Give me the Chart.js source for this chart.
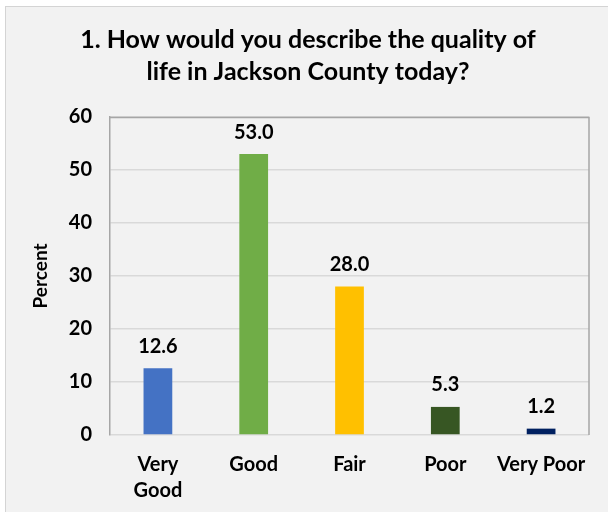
<!DOCTYPE html>
<html><head><meta charset="utf-8">
<script src="https://cdn.jsdelivr.net/npm/chart.js@4/dist/chart.umd.min.js"></script>
<style>
html,body{margin:0;padding:0;background:#fff;width:608px;height:512px;overflow:hidden;}
#frame{position:absolute;left:5px;top:6px;width:620px;height:520px;border:1px solid #d4d4d4;background:#f2f2f2;}
#wrap{position:absolute;left:0;top:0;width:608px;height:512px;}
</style></head><body>
<div id="frame"></div>
<div id="wrap"><canvas id="c" width="608" height="512"></canvas></div>
<script>
const categories = [["Very","Good"], "Good", "Fair", "Poor", "Very Poor"];
const percentValues = [12.6, 53.0, 28.0, 5.3, 1.2];
const barColors = ["#4472C4", "#70AD47", "#FFC000", "#375623", "#002060"];
const titleLines = ["1. How would you describe the quality of", "life in Jackson County today?"];
const yTitle = "Percent";
const FONT = "Lato, 'Liberation Sans', sans-serif";

const labelPlugin = {
  id: 'valueLabels',
  afterDatasetsDraw(chart) {
    const ctx = chart.ctx;
    const meta = chart.getDatasetMeta(0);
    ctx.save();
    ctx.font = "bold 20px " + FONT;
    ctx.fillStyle = "#000";
    ctx.textAlign = "center";
    ctx.textBaseline = "middle";
    meta.data.forEach((bar, i) => {
      ctx.fillText(percentValues[i].toFixed(1), bar.x, bar.y - 22);
    });
    ctx.restore();
  }
};
const borderPlugin = {
  id: 'plotBorder',
  beforeDatasetsDraw(chart) {
    const a = chart.chartArea, ctx = chart.ctx;
    ctx.save();
    ctx.strokeStyle = "#a6a6a6";
    ctx.lineWidth = 1.5;
    ctx.beginPath();
    ctx.moveTo(a.left, a.top + 0.5);
    ctx.lineTo(a.right, a.top + 0.5);
    ctx.lineTo(a.right, a.bottom);
    ctx.stroke();
    ctx.restore();
  }
};

new Chart(document.getElementById('c'), {
  type: 'bar',
  data: {
    labels: categories,
    datasets: [{
      data: percentValues,
      backgroundColor: barColors,
      barPercentage: 0.3,
      categoryPercentage: 1.0
    }]
  },
  options: {
    responsive: false,
    animation: false,
    devicePixelRatio: 1,
    layout: { padding: { left: 27, right: 19, top: 0, bottom: 0 } },
    plugins: {
      legend: { display: false },
      tooltip: { enabled: false },
      title: {
        display: true,
        text: titleLines,
        color: "#000",
        font: { family: FONT, size: 25, weight: 'bold', lineHeight: 1.28 },
        padding: { top: 24, bottom: 29 }
      }
    },
    scales: {
      x: {
        grid: { display: false, drawTicks: false },
        border: { display: false },
        ticks: { color: "#000", font: { family: FONT, size: 20, weight: 'bold', lineHeight: 1.3 }, padding: 17, maxRotation: 0, autoSkip: false },
        afterFit(scale) { scale.height = 77; }
      },
      y: {
        min: 0, max: 60,
        ticks: { stepSize: 10, color: "#000", font: { family: FONT, size: 20, weight: 'bold' }, padding: 18 },
        grid: { color: "#d9d9d9", lineWidth: 1.5, drawTicks: false },
        border: { display: true, color: "#a6a6a6", width: 1.5 },
        title: { display: true, text: yTitle, color: "#000", font: { family: FONT, size: 19, weight: 'bold' }, padding: { top: 2, bottom: 10 } },
        afterFit(scale) { scale.width = 83; }
      }
    }
  },
  plugins: [borderPlugin, labelPlugin]
});
</script>
</body></html>
